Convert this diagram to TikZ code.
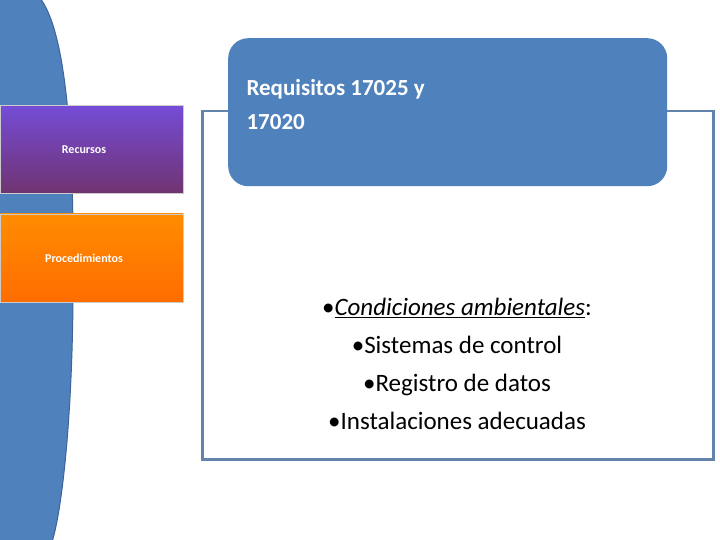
\documentclass[tikz,border=0pt]{standalone}
\usepackage{fontspec}
\setmainfont{Carlito}
\usetikzlibrary{positioning}
\definecolor{azul}{HTML}{4F81BD}
\definecolor{borde}{HTML}{3C6496}
\tikzset{
  tab/.style={minimum width=183pt, minimum height=88pt, anchor=north west, text=white, font=\fontsize{12}{14}\selectfont\bfseries, draw=white!80!black, line width=0.6pt},
}
\begin{document}
\begin{tikzpicture}[x=1pt, y=-1pt]
  \useasboundingbox (0,0) rectangle (720,540);

  % arco azul a la izquierda
  \fill[azul, draw=borde, line width=1pt] (-5,-2) -- (40,-2) .. controls (72,40) and (74,190) .. (73,300) .. controls (72,420) and (62,510) .. (52,542) -- (-5,542) -- cycle;

  % pestañas
  \node[tab, top color=violet!45!blue!70!white, bottom color=violet!60!black!80] (recursos) at (0,105) {};
  \node[font=\fontsize{12}{14}\selectfont\bfseries, text=white] at (84,150) {Recursos};
  \node[tab, top color=orange!90!yellow, bottom color=orange!85!red, below=20pt of recursos.south west, anchor=north west] (proc) {};
  \node[font=\fontsize{12}{14}\selectfont\bfseries, text=white] at (84,258) {Procedimientos};

  % marco y encabezado
  \node[draw=borde!80!white, line width=2.5pt, fill=white, minimum width=511pt, minimum height=348pt, anchor=north west] (marco) at (201,110) {};
  \node[fill=azul, rounded corners=20pt, minimum width=439pt, minimum height=148pt, anchor=north west] (titulo) at (228,38) {};
  \node[anchor=north west, text=white, align=left, font=\fontsize{23}{34}\selectfont\bfseries] (req) at (243,76) {Requisitos 17025 y\\17020};

  \node[align=center, font=\fontsize{25}{38}\selectfont] (lista) at (457,364) {%
    •\textit{\underline{Condiciones ambientales}}:\\
    •Sistemas de control\\
    •Registro de datos\\
    •Instalaciones adecuadas};
\end{tikzpicture}
\end{document}
